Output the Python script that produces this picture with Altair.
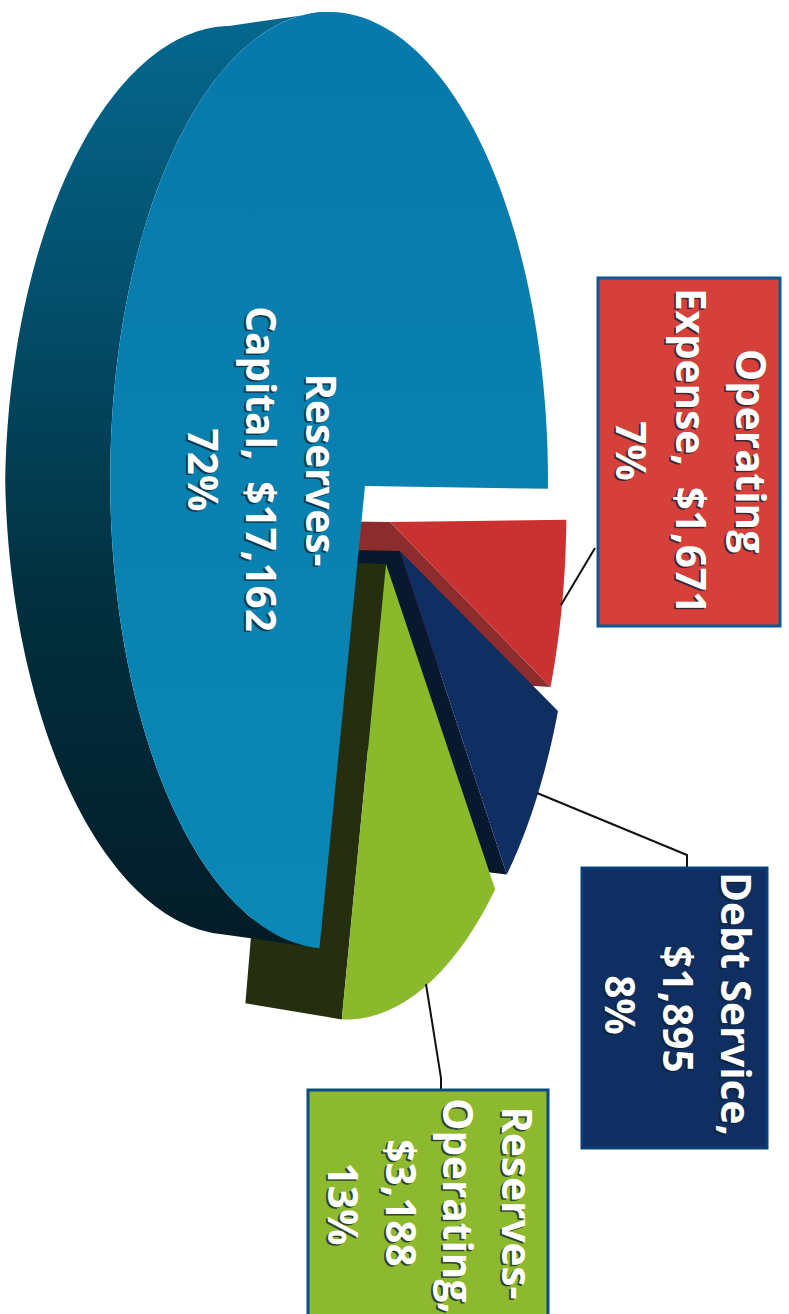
import altair as alt
import numpy as np
import pandas as pd

# Budget breakdown, listed counter-clockwise from the right-hand edge of the disc
slice_names = ["Reserves-Capital", "Reserves-Operating", "Debt Service", "Operating Expense"]
amounts = [17162, 3188, 1895, 1671]
face_colors = ["#0a80b1", "#8ab92c", "#0f2f63", "#c93230"]
side_colors = ["#034a66", "#252f0f", "#08182f", "#8d2c2c"]
box_colors = ["#d5403a", "#0f2f63", "#8cb92e"]

# Where each wedge's tip sits once pulled out of the disc
wedge_tips = {
    "Reserves-Capital": (365, 486),
    "Reserves-Operating": (386, 564),
    "Debt Service": (400, 551),
    "Operating Expense": (390, 522),
}

# Perspective of the tilted disc
X0, Y0 = 365.0, 486.0
A, B = 213.0, 462.0
P, R = 0.164, 0.012
START_ANGLE = -0.4
DEPTH_X, DEPTH_X_FALLOFF, DEPTH_Y_SCALE, DEPTH_YC = 105.0, 0.016, 0.97, 480.0

total = sum(amounts)
shares = np.array(amounts) / total * 360.0
starts = START_ANGLE + np.concatenate([[0.0], np.cumsum(shares)[:-1]])
ends = START_ANGLE + np.cumsum(shares)


def tip_to_disc(px, py):
    x, y = (px - X0) / A, (py - Y0) / B
    d = 1.0 / (1.0 - P * x - R * y)
    return x * d, y * d


def project(u, v):
    d = 1.0 + P * u + R * v
    return X0 + A * u / d, Y0 + B * v / d


def rim(name, t0, t1, n=160):
    du, dv = tip_to_disc(*wedge_tips[name])
    t = np.radians(np.linspace(t0, t1, n))
    return project(du + np.cos(t), dv - np.sin(t))


def extrude(xs, ys):
    xs, ys = np.asarray(xs, float), np.asarray(ys, float)
    shift = DEPTH_X - DEPTH_X_FALLOFF * np.abs(ys - DEPTH_YC)
    return xs - shift, DEPTH_YC + DEPTH_Y_SCALE * (ys - DEPTH_YC)


x_scale = alt.Scale(domain=[0, 789], range=[0, 789], nice=False, zero=False)
y_scale = alt.Scale(domain=[0, 1314], range=[0, 1314], nice=False, zero=False)


def X(field="x"):
    return alt.X(f"{field}:Q", scale=x_scale, axis=None)


def Y(field="y"):
    return alt.Y(f"{field}:Q", scale=y_scale, axis=None)


def shape(xs, ys, fill):
    frame = pd.DataFrame({"i": range(len(xs)), "x": xs, "y": ys})
    return alt.Chart(frame).mark_line(fill=fill, strokeWidth=0).encode(x=X(), y=Y(), order="i:Q")


def stops(*pairs):
    return alt.Gradient(
        gradient="linear", x1=0, x2=0, y1=0, y2=1,
        stops=[alt.GradientStop(offset=o, color=c) for o, c in pairs],
    )


layers = []

# Back-to-front: red, navy and green wedges, then the large blue wedge on top
for idx in [3, 2, 1]:
    name = slice_names[idx]
    tip = wedge_tips[name]
    rx, ry = rim(name, starts[idx], ends[idx])
    edge_x = [tip[0], rx[0]]
    edge_y = [tip[1], ry[0]]
    sx, sy = extrude(edge_x, edge_y)
    layers.append(shape([edge_x[0], edge_x[1], sx[1], sx[0]],
                        [edge_y[0], edge_y[1], sy[1], sy[0]], side_colors[idx]))
    layers.append(shape([tip[0], *rx], [tip[1], *ry], face_colors[idx]))

# Blue wedge: the curved wall starts where its silhouette leaves the top of the face
blue = slice_names[0]
bx, by = rim(blue, 100, ends[0])
sbx, sby = extrude(bx, by)
layers.append(shape([*bx, *sbx[::-1]], [*by, *sby[::-1]],
                    stops((0, "#05688f"), (0.3, "#034f6c"), (0.62, "#02303f"), (1, "#021c27"))))
fx, fy = rim(blue, starts[0], ends[0])
tip = wedge_tips[blue]
layers.append(shape([tip[0], *fx], [tip[1], *fy],
                    stops((0, "#0779ab"), (1, "#0a88b6"))))

# Leader lines from the wedges to their label boxes
leaders = [
    [(595, 548), (561, 605)],
    [(687, 868), (687, 855), (537, 793)],
    [(441, 1090), (441, 1078), (426, 984)],
]
for k, leader in enumerate(leaders):
    frame = pd.DataFrame({"i": range(len(leader)),
                          "x": [p[0] for p in leader],
                          "y": [p[1] for p in leader]})
    layers.append(alt.Chart(frame).mark_line(color="#111111", strokeWidth=2)
                  .encode(x=X(), y=Y(), order="i:Q"))

# Label boxes
boxes = [
    (598, 780, 278, 626, box_colors[0], "#0a5a92"),
    (582, 767, 868, 1148, box_colors[1], "#0b3f78"),
    (308, 548, 1090, 1330, box_colors[2], "#0a4c86"),
]
for x0, x1, y0, y1, fill, edge in boxes:
    frame = pd.DataFrame({"x": [x0], "x2": [x1], "y": [y0], "y2": [y1]})
    layers.append(alt.Chart(frame).mark_rect(fill=fill, stroke=edge, strokeWidth=3)
                  .encode(x=X(), x2="x2:Q", y=Y(), y2="y2:Q"))

# Rotated label text, each line with a dark drop shadow beneath it
label_lines = pd.DataFrame([
    ("Reserves-", 318, 470), ("Capital,\u00a0\u00a0$17,162", 258, 469), ("72%", 200, 470),
    ("Operating", 748, 451), ("Expense,\u00a0\u00a0$1,671", 688, 451), ("7%", 628, 451),
    ("Debt Service,", 733, 1004), ("$1,895", 675, 1009), ("8%", 617, 1005),
    ("Reserves-", 514, 1203), ("Operating,", 455, 1206), ("$3,188", 398, 1203), ("13%", 340, 1204),
], columns=["text", "x", "y"])
FONT = dict(font="Open Sans", fontSize=40.5, fontWeight=700, angle=90, align="center", baseline="middle")

shadow = label_lines.assign(x=label_lines.x - 2, y=label_lines.y + 1.5)
layers.append(alt.Chart(shadow).mark_text(color="#10202a", opacity=0.75, **FONT)
              .encode(x=X(), y=Y(), text="text:N"))
layers.append(alt.Chart(label_lines).mark_text(color="#ffffff", **FONT)
              .encode(x=X(), y=Y(), text="text:N"))

chart = (
    alt.layer(*layers)
    .properties(width=789, height=1314, padding=0, autosize=alt.AutoSizeParams(type="none"),
                background="#ffffff")
    .configure_view(stroke=None)
)
chart.save("out.html", embed_options={"renderer": "svg", "actions": False})
